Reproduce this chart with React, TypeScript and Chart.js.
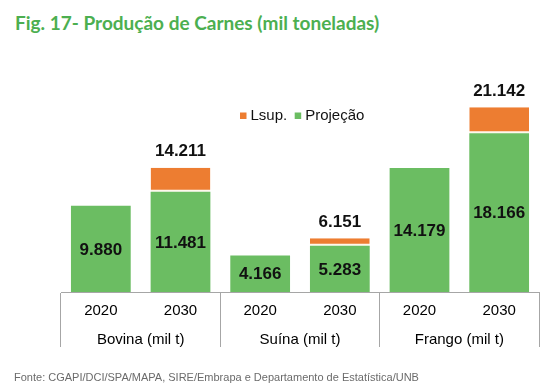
import React, { useEffect, useRef } from "react";
import { Chart, registerables } from "chart.js";

Chart.register(...registerables);

const years = ["2020", "2030", "2020", "2030", "2020", "2030"];
const groups = ["Bovina (mil t)", "Suína (mil t)", "Frango (mil t)"];
const projecao = [9880, 11481, 4166, 5283, 14179, 18166];
const lsup = [null, 2730, null, 868, null, 2976];

const GREEN = "#6bbd62";
const ORANGE = "#ed7d31";
const GRID = "#a6a6a6";
const FONT = "'Liberation Sans', Arial, sans-serif";

const fmt = (n: number) => String(n).replace(/\B(?=(\d{3})+(?!\d))/g, ".");

const labelPlugin = {
  id: "labels",
  afterDatasetsDraw(chart: any) {
    const ctx = chart.ctx;
    ctx.save();
    ctx.fillStyle = "#111";
    ctx.font = `bold 17px ${FONT}`;
    ctx.textAlign = "center";
    ctx.textBaseline = "middle";
    const gMeta = chart.getDatasetMeta(0);
    const oMeta = chart.getDatasetMeta(1);
    const g = chart.data.datasets[0].data as number[];
    const o = chart.data.datasets[1].data as (number | null)[];
    gMeta.data.forEach((el: any, i: number) => {
      const cy = (el.y + el.base) / 2;
      ctx.fillText(fmt(g[i]), el.x, cy + 1);
      if (o[i] != null) {
        const oe = oMeta.data[i] as any;
        ctx.fillText(fmt(g[i] + (o[i] as number)), oe.x, oe.y - 16);
      }
    });
    // legend
    const ds = chart.data.datasets;
    const order = [1, 0];
    let x = 240;
    const y = 116;
    ctx.font = `15px ${FONT}`;
    ctx.textAlign = "left";
    order.forEach((di) => {
      ctx.fillStyle = ds[di].backgroundColor;
      ctx.fillRect(x, y - 3.5, 6.5, 6.5);
      ctx.fillStyle = "#111";
      ctx.fillText(ds[di].label, x + 10.5, y);
      x += 10.5 + ctx.measureText(ds[di].label).width + 7.5;
    });
    ctx.restore();
  },
};

export default function App() {
  const ref = useRef<HTMLCanvasElement>(null);
  useEffect(() => {
    const chart = new Chart(ref.current as HTMLCanvasElement, {
      type: "bar",
      data: {
        labels: years,
        datasets: [
          {
            label: "Projeção",
            data: projecao,
            backgroundColor: GREEN,
            borderWidth: 0,
            barPercentage: 0.75,
            categoryPercentage: 1,
          },
          {
            label: "Lsup.",
            data: lsup as any,
            backgroundColor: ORANGE,
            borderColor: "#fff8ec",
            borderWidth: { top: 0, left: 0, right: 0, bottom: 2 },
            borderSkipped: false,
            barPercentage: 0.75,
            categoryPercentage: 1,
          },
        ],
      },
      options: {
        responsive: false,
        animation: false,
        layout: { padding: { left: 61, right: 15, top: 91, bottom: 30 } },
        plugins: { legend: { display: false }, tooltip: { enabled: false } },
        scales: {
          y: { display: false, stacked: true, min: 0, max: 23000 },
          x: {
            stacked: true,
            offset: true,
            weight: 0,
            grid: {
              display: true,
              drawOnChartArea: false,
              drawTicks: true,
              tickLength: 55,
              offset: true,
              color: (c: any) =>
                c.index === undefined || c.index % 2 === 0 ? GRID : "rgba(0,0,0,0)",
            },
            border: { display: true, color: GRID },
            ticks: { color: "#000", font: { family: FONT, size: 15 }, padding: -45 },
            afterFit: (s: any) => {
              s.height = 28;
            },
          },
          x2: {
            type: "category",
            labels: groups,
            position: "bottom",
            offset: true,
            weight: 1,
            grid: { display: false },
            border: { display: false },
            ticks: { color: "#000", font: { family: FONT, size: 15 }, padding: 3 },
            afterFit: (s: any) => {
              s.height = 40;
            },
          },
        },
      },
      plugins: [labelPlugin],
    });
    return () => chart.destroy();
  }, []);
  return (
    <div style={{ position: "absolute", left: 0, top: 0, width: 554, height: 390, background: "#fff" }}>
      <div
        style={{
          position: "absolute",
          left: 15,
          top: 11,
          fontFamily: "Lato, 'Open Sans', sans-serif",
          fontWeight: 700,
          fontSize: 19,
          color: "#4caf50",
          whiteSpace: "nowrap",
          lineHeight: "24px",
        }}
      >
        Fig. 17- Produção de Carnes (mil toneladas)
      </div>
      <canvas ref={ref} width={554} height={390} style={{ position: "absolute", left: 0, top: 0 }} />
      <div
        style={{
          position: "absolute",
          left: 14,
          top: 370,
          fontFamily: FONT,
          fontSize: 11,
          color: "#6b6b6b",
          whiteSpace: "nowrap",
          lineHeight: "14px",
        }}
      >
        Fonte: CGAPI/DCI/SPA/MAPA, SIRE/Embrapa e Departamento de Estatística/UNB
      </div>
    </div>
  );
}
